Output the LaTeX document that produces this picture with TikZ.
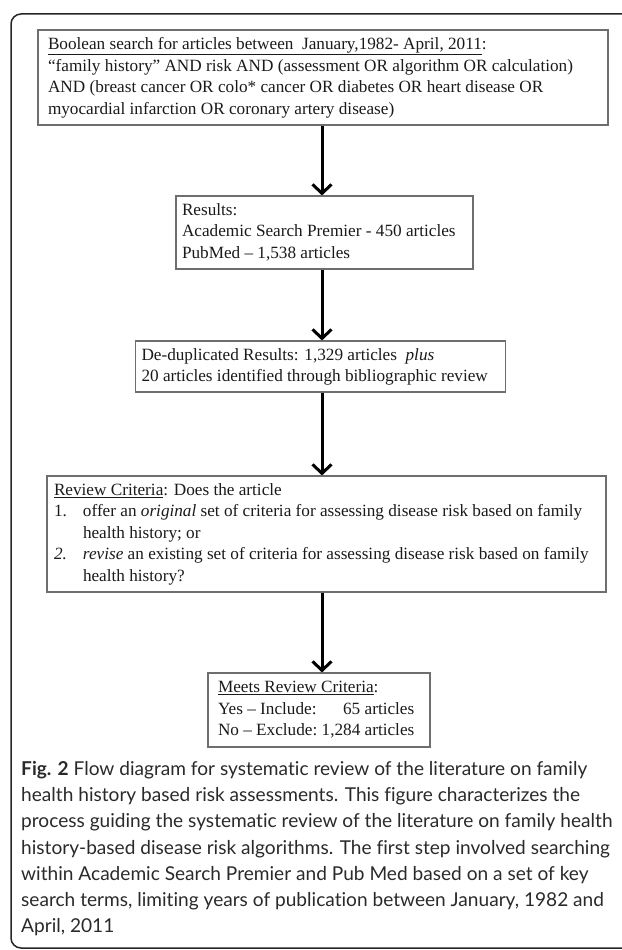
\documentclass[tikz,border=0pt]{standalone}
\usepackage{fontspec}
\setmainfont{Liberation Serif}
\newfontfamily\capfont[Ligatures={NoCommon}]{Lato}
\usetikzlibrary{arrows.meta}
\definecolor{boxgray}{HTML}{6E6E6E}
\definecolor{ink}{HTML}{1A1A1A}
\definecolor{capink}{HTML}{2A2A2A}
\newcommand{\boxlines}[2]{\makebox[#1][l]{\begin{tabular}[c]{@{}l@{}}#2\end{tabular}}}
\begin{document}
\begin{tikzpicture}[x=1pt,y=-1pt,
  box/.style={draw=boxgray, line width=1.1pt, inner ysep=0pt,
    font=\fontsize{17.2}{21.5}\selectfont, text=ink},
  flow/.style={line width=3pt, draw=black,
    -{Straight Barb[length=9pt,width=19pt,line width=3pt]}},
  frame/.style={draw=black!85, line width=1.5pt, rounded corners=10pt}]
\useasboundingbox (0,0) rectangle (621,950);
\draw[frame] (11,14) rectangle (660,948);

\coordinate (ax) at (322,0);

\node[box, minimum height=95pt, inner xsep=10pt] (b1) at (323,77.5)
 {\boxlines{550pt}{\underline{Boolean search for articles between\ \ January,1982- April, 2011}:\\
  “family history” AND risk AND (assessment OR algorithm OR calculation)\\
  AND (breast cancer OR colo* cancer OR diabetes OR heart disease OR\\
  myocardial infarction OR coronary artery disease)}};

\node[box, minimum height=73pt, inner xsep=6pt] (b2) at (324.5,232.5)
 {\boxlines{285pt}{Results:\\
  Academic Search Premier - 450 articles\\
  PubMed – 1,538 articles}};

\node[box, minimum height=51pt, inner xsep=6pt] (b3) at (320.5,366.5)
 {\boxlines{358pt}{De-duplicated Results: 1,329 articles\ \ \textit{plus}\\
  20 articles identified through bibliographic review}};

\node[box, minimum height=116pt, inner xsep=7pt] (b4) at (326.5,534)
 {\boxlines{545pt}{\underline{Review Criteria}: Does the article\\
  \makebox[29pt][l]{1.}offer an \textit{original} set of criteria for assessing disease risk based on family\\
  \hspace*{29pt}health history; or\\
  \makebox[29pt][l]{\textit{2.}}\textit{revise} an existing set of criteria for assessing disease risk based on family\\
  \hspace*{29pt}health history?}};

\node[box, minimum height=74pt, inner xsep=10pt] (b5) at (319,710)
 {\makebox[202pt][l]{\begin{tabular}[c]{@{}l@{\ }r@{}}
  \multicolumn{2}{@{}l@{}}{\underline{Meets Review Criteria}:}\\
  Yes – Include: & 65 articles\\
  No – Exclude: & 1,284 articles\end{tabular}}};

\draw[flow] (b1.south -| ax) -- (b2.north -| ax);
\draw[flow] (b2.south -| ax) -- (b3.north -| ax);
\draw[flow] (b3.south -| ax) -- (b4.north -| ax);
\draw[flow] (b4.south -| ax) -- (b5.north -| ax);

\node[anchor=north west, inner sep=0pt, text=capink,
  font=\capfont\fontsize{19.1}{26.2}\selectfont] (cap) at (21,757)
 {\begin{tabular}{@{}l@{}}\textbf{Fig. 2} Flow diagram for systematic review of the literature on family\\
  health history based risk assessments. This figure characterizes the\\
  process guiding the systematic review of the literature on family health\\
  history-based disease risk algorithms. The first step involved searching\\
  within Academic Search Premier and Pub Med based on a set of key\\
  search terms, limiting years of publication between January, 1982 and\\
  April, 2011\end{tabular}};
\end{tikzpicture}
\end{document}
